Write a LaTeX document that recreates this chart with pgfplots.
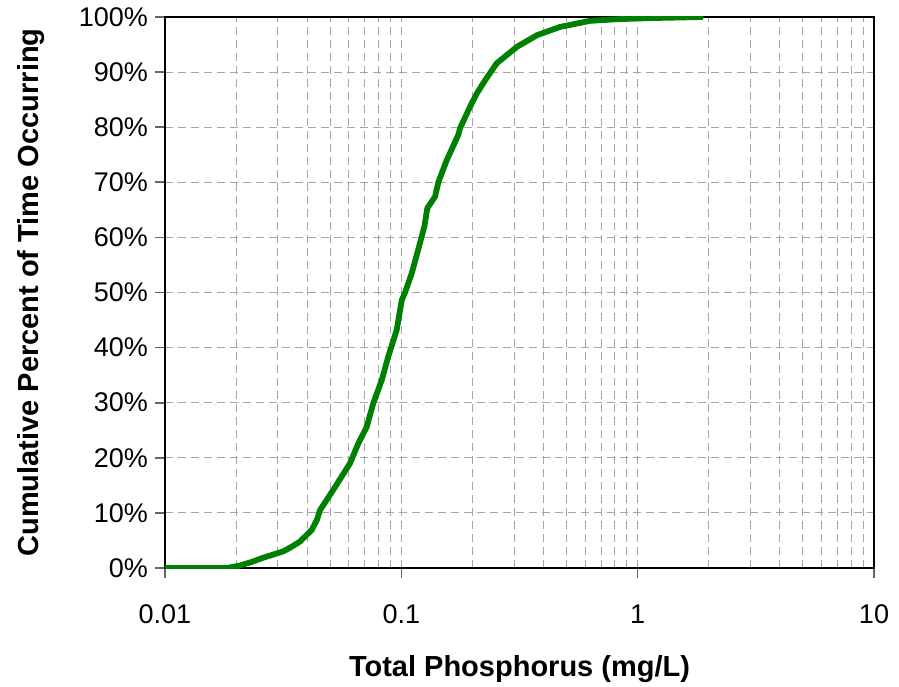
\documentclass[border=0pt]{standalone}
\usepackage{fontspec}
\setmainfont{Liberation Sans}
\usepackage{pgfplots}
\pgfplotsset{compat=1.18}
\definecolor{curvegreen}{RGB}{0,128,0}
\begin{document}
\begin{tikzpicture}
\path[use as bounding box] (-82.5bp,-59.5bp) rectangle (367bp,284bp);
\begin{semilogxaxis}[
  scale only axis,
  width=354.5bp, height=275.5bp,
  xmin=0.01, xmax=10, ymin=0, ymax=100,
  xtick={0.01,0.1,1,10},
  xticklabels={0.01,0.1,1,10},
  ytick={0,10,...,100},
  yticklabels={0\%,10\%,20\%,30\%,40\%,50\%,60\%,70\%,80\%,90\%,100\%},
  xtick pos=bottom, ytick pos=left,
  tick align=outside,
  major tick length=5bp,
  minor tick length=0pt,
  major tick style={black!60, line width=0.8bp},
  axis line style={black, line width=1bp},
  grid=both,
  major grid style={black!35, line width=0.5bp, dash pattern=on 4bp off 2.5bp},
  minor grid style={black!35, line width=0.5bp, dash pattern=on 4bp off 2.5bp},
  tick label style={font=\fontsize{13.5bp}{16bp}\selectfont},
  xticklabel style={yshift=-10bp},
  xlabel={Total Phosphorus (mg/L)},
  ylabel={Cumulative Percent of Time Occurring},
  label style={font=\fontsize{14.5bp}{17bp}\selectfont\bfseries},
  xlabel style={at={(axis description cs:0.5,-0.1978)}, anchor=base},
  ylabel style={at={(axis description cs:-0.1791,0.5)}, anchor=base, rotate=0},
]
\addplot[curvegreen, line width=2.9bp, line join=round] coordinates {
(0.01,0) (0.0183,0) (0.0205,0.4) (0.0229,1.0) (0.0266,2.0) (0.0316,3.0)
(0.0345,3.9) (0.03726,4.8) (0.04177,6.9) (0.0440,8.8) (0.04529,10.5) (0.05155,14.2)
(0.06066,19.0) (0.06577,22.6) (0.07137,25.6) (0.07611,29.9) (0.08264,34.1)
(0.08810,38.4) (0.09561,43.2) (0.1004,48.6) (0.1037,50) (0.1107,53.5)
(0.1200,59) (0.1252,62) (0.1288,65.3) (0.1389,67.4) (0.1434,70)
(0.1556,74) (0.1742,78.6) (0.1772,79.8) (0.1953,83.7) (0.2085,86.1)
(0.2261,88.5) (0.2533,91.6) (0.3088,94.6) (0.3752,96.7) (0.4695,98.2)
(0.6293,99.3) (0.8187,99.6) (1.128,99.8) (1.892,100)
};
\end{semilogxaxis}
\end{tikzpicture}
\end{document}
